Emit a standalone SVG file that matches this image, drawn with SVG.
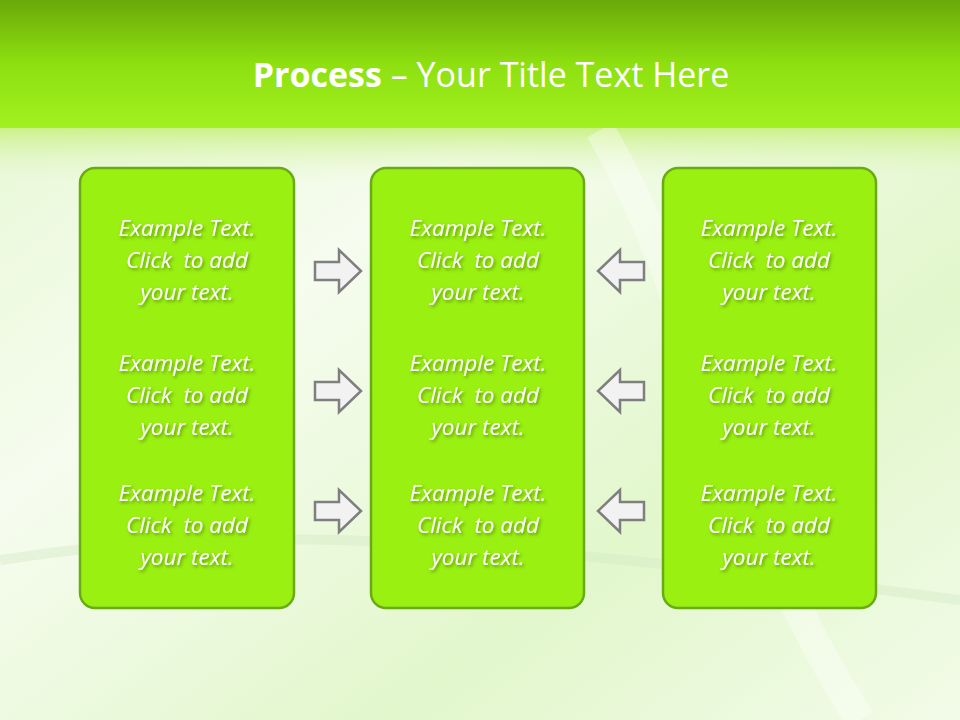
<svg xmlns="http://www.w3.org/2000/svg" width="960" height="720" viewBox="0 0 960 720">
<defs>
<linearGradient id="top" x1="0" y1="0" x2="0" y2="1">
<stop offset="0" stop-color="#6aa90a"/><stop offset="0.5" stop-color="#8ee010"/><stop offset="1" stop-color="#a2f020"/>
</linearGradient>
<linearGradient id="bg" x1="0" y1="0" x2="1" y2="1">
<stop offset="0" stop-color="#e4f7cf"/><stop offset="0.35" stop-color="#f6fcef"/><stop offset="0.7" stop-color="#e2f7cc"/><stop offset="1" stop-color="#f2fbe8"/>
</linearGradient>
<linearGradient id="fade" x1="0" y1="0" x2="0" y2="1">
<stop offset="0" stop-color="#c8f080"/><stop offset="1" stop-color="#e8f8d8" stop-opacity="0"/>
</linearGradient>
<filter id="sh" x="-10%" y="-10%" width="120%" height="130%">
<feDropShadow dx="1.5" dy="2" stdDeviation="1.5" flood-color="#3a5a00" flood-opacity="0.6"/>
</filter>
<path id="ra" d="M-23,-9 H1 V-21 L23,0 L1,21 V9 H-23 Z"/>
<style>
.box{fill:#99f011;stroke:#6aaa12;stroke-width:2.5}
.t{font-family:"Open Sans","Liberation Sans",sans-serif;font-style:italic;font-size:22.5px;fill:#fff;text-anchor:middle;filter:url(#sh);white-space:pre}
.arr{fill:#f2f2f2;stroke:#7f7f7f;stroke-width:2.5}
</style>
</defs>
<rect width="960" height="720" fill="url(#bg)"/>
<rect y="125" width="960" height="60" fill="url(#fade)"/>
<path d="M0,560 C250,520 500,540 960,600" fill="none" stroke="#d2e8c2" stroke-width="10" opacity="0.4"/>
<path d="M600,130 C700,300 720,500 860,720" fill="none" stroke="#ffffff" stroke-width="30" opacity="0.35"/>
<rect width="960" height="128" fill="url(#top)"/>
<text x="491" y="87" font-family="'Open Sans','Liberation Sans',sans-serif" font-size="34" fill="#fff" text-anchor="middle"><tspan font-weight="bold">Process</tspan> – Your Title Text Here</text>
<g id="connectors">
<use href="#ra" class="arr" transform="translate(338,271)"/>
<use href="#ra" class="arr" transform="translate(338,391)"/>
<use href="#ra" class="arr" transform="translate(338,511)"/>
<use href="#ra" class="arr" transform="translate(621,271) scale(-1,1)"/>
<use href="#ra" class="arr" transform="translate(621,391) scale(-1,1)"/>
<use href="#ra" class="arr" transform="translate(621,511) scale(-1,1)"/>
</g>
<g id="left">
<rect class="box" x="80" y="168" width="214" height="440" rx="15"/>
<text class="t" x="187" y="236">Example Text.<tspan x="187" dy="32">Click  to add</tspan><tspan x="187" dy="32">your text.</tspan></text>
<text class="t" x="187" y="371">Example Text.<tspan x="187" dy="32">Click  to add</tspan><tspan x="187" dy="32">your text.</tspan></text>
<text class="t" x="187" y="501">Example Text.<tspan x="187" dy="32">Click  to add</tspan><tspan x="187" dy="32">your text.</tspan></text>
</g>
<g id="center">
<rect class="box" x="371" y="168" width="213" height="440" rx="15"/>
<text class="t" x="478" y="236">Example Text.<tspan x="478" dy="32">Click  to add</tspan><tspan x="478" dy="32">your text.</tspan></text>
<text class="t" x="478" y="371">Example Text.<tspan x="478" dy="32">Click  to add</tspan><tspan x="478" dy="32">your text.</tspan></text>
<text class="t" x="478" y="501">Example Text.<tspan x="478" dy="32">Click  to add</tspan><tspan x="478" dy="32">your text.</tspan></text>
</g>
<g id="right">
<rect class="box" x="663" y="168" width="213" height="440" rx="15"/>
<text class="t" x="769" y="236">Example Text.<tspan x="769" dy="32">Click  to add</tspan><tspan x="769" dy="32">your text.</tspan></text>
<text class="t" x="769" y="371">Example Text.<tspan x="769" dy="32">Click  to add</tspan><tspan x="769" dy="32">your text.</tspan></text>
<text class="t" x="769" y="501">Example Text.<tspan x="769" dy="32">Click  to add</tspan><tspan x="769" dy="32">your text.</tspan></text>
</g>
</svg>
